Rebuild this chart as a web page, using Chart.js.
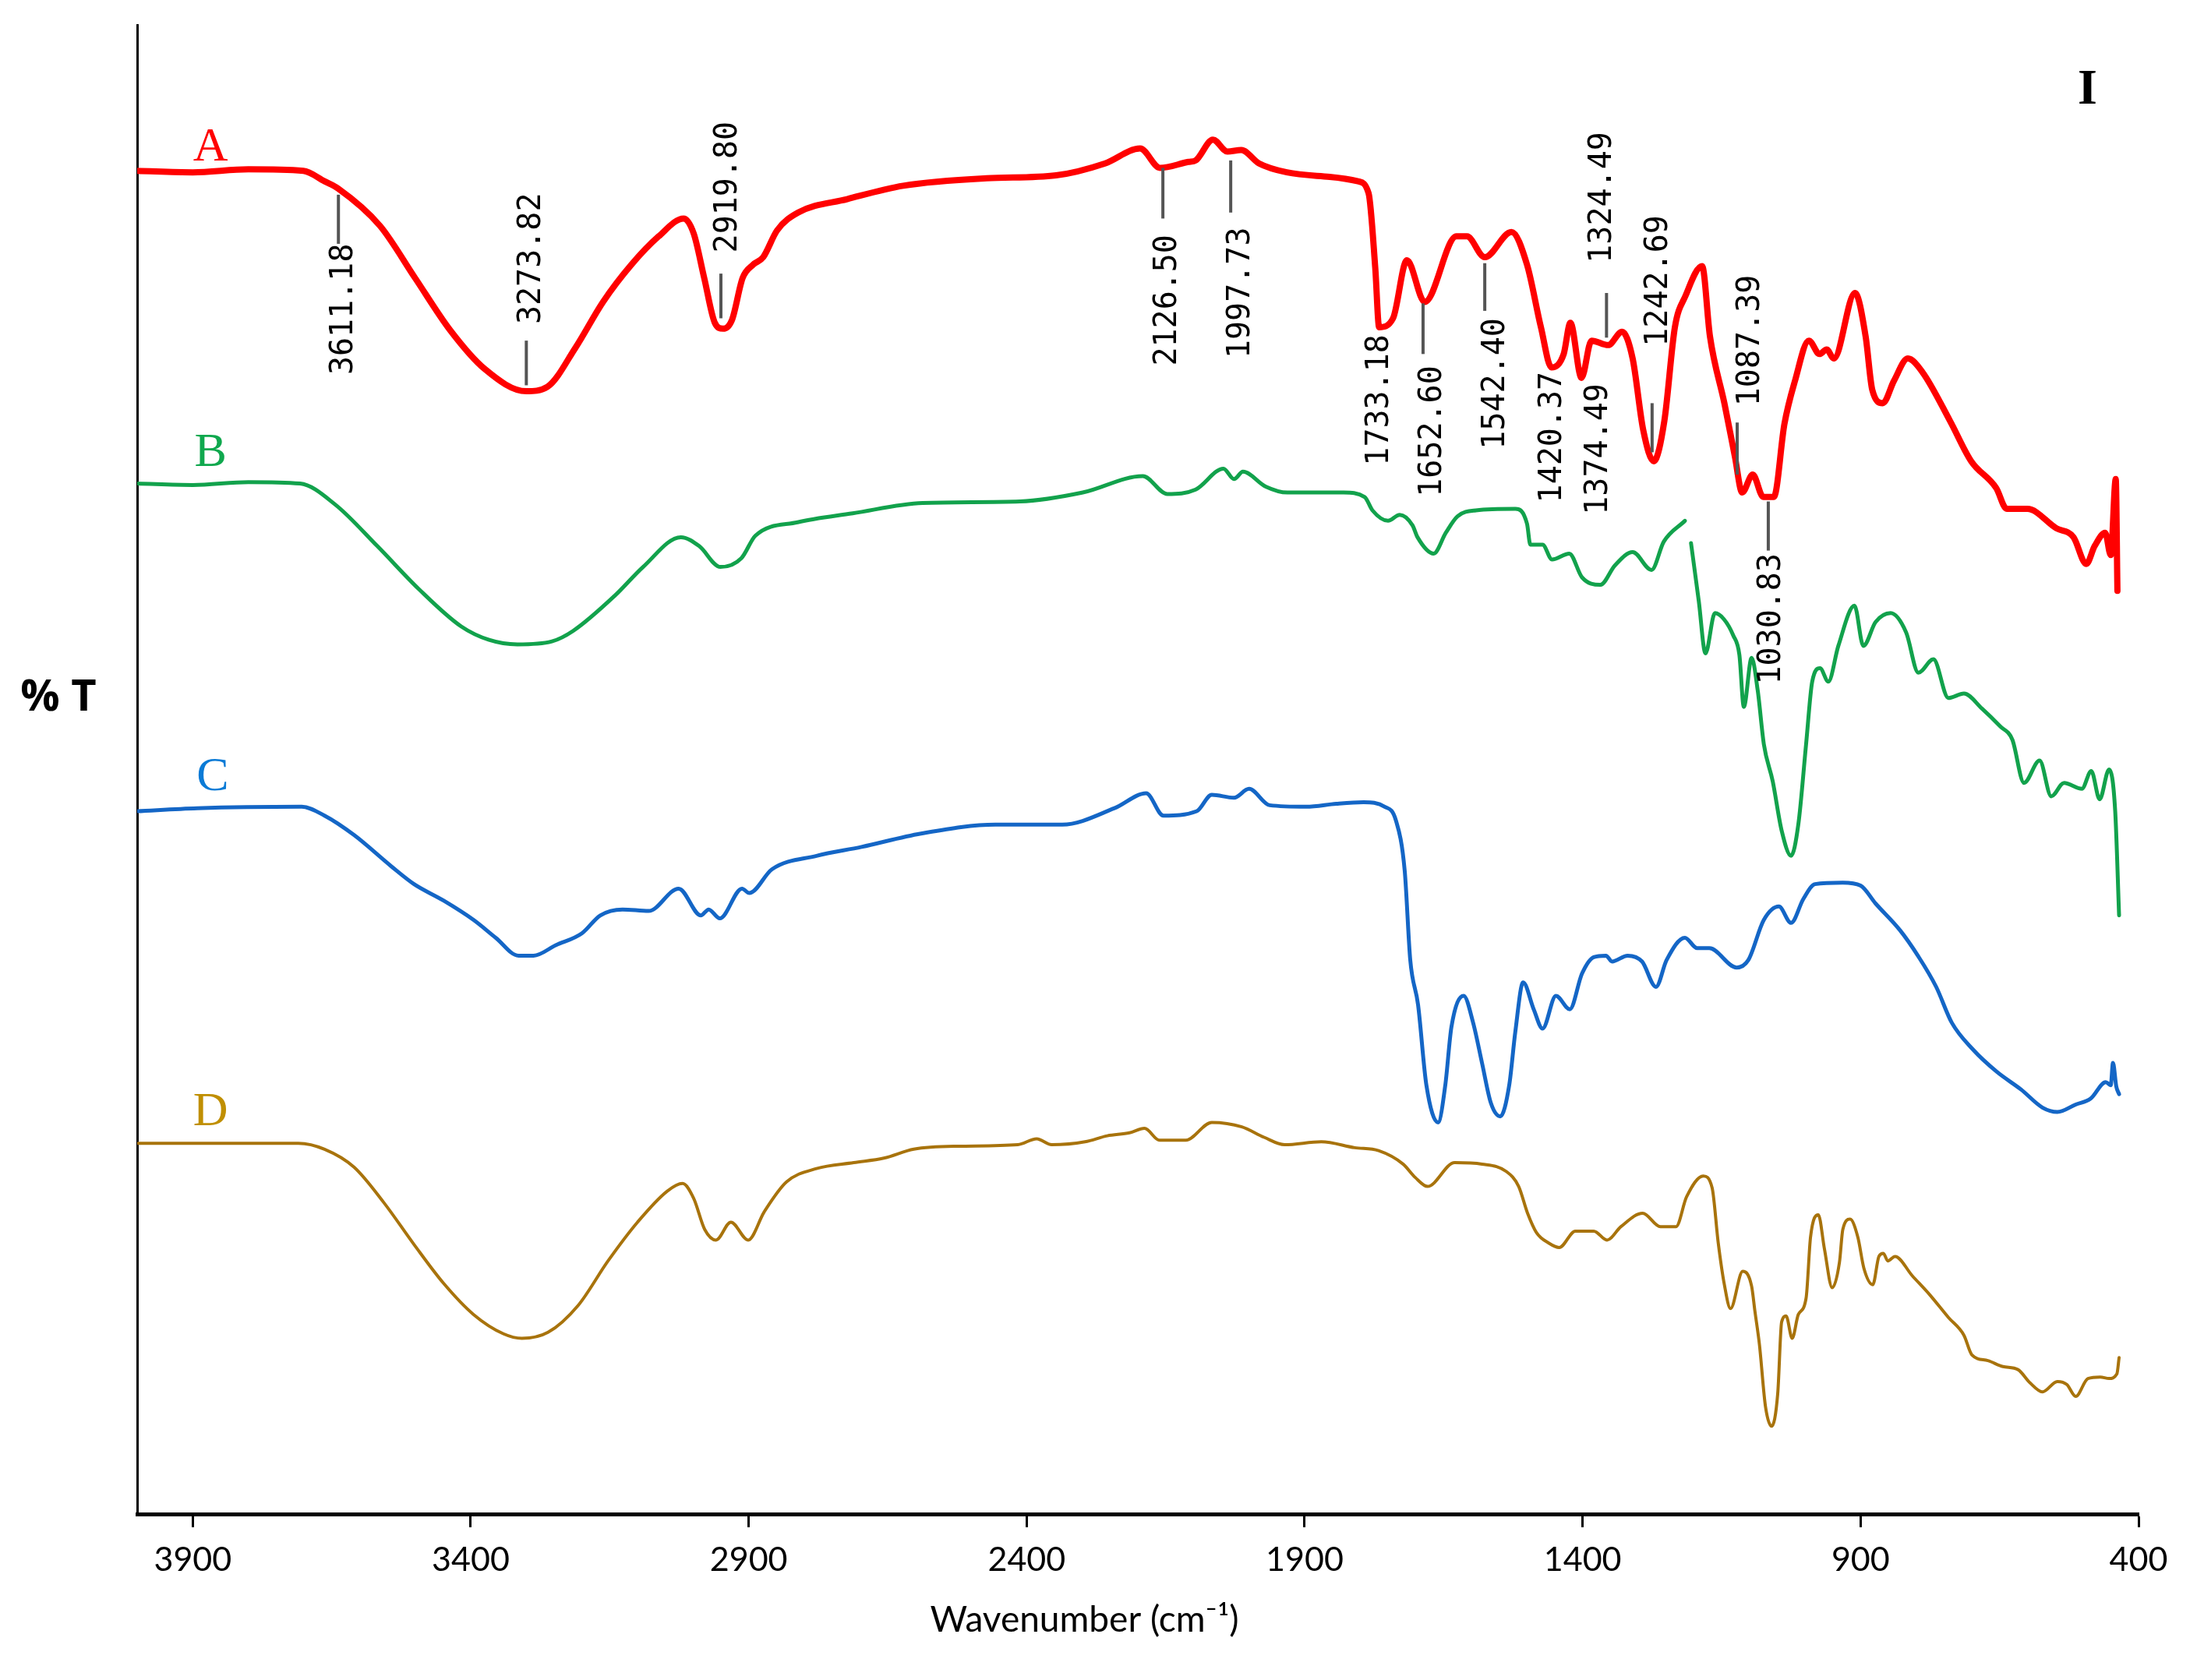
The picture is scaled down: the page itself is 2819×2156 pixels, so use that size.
<!DOCTYPE html>
<html>
<head>
<meta charset="utf-8">
<title>FTIR spectra A-D</title>
<script src="https://cdn.jsdelivr.net/npm/chart.js@4.4.1/dist/chart.umd.min.js"></script>
<style>
  html, body { margin: 0; padding: 0; background: #fff; }
  canvas { display: block; }
</style>
</head>
<body>
<canvas id="ftir" width="2819" height="2156"></canvas>
<script>
// Axis ticks (wavenumber, cm-1)
const xTicks = [3900, 3400, 2900, 2400, 1900, 1400, 900, 400];

// Spectrum A (red) - wavenumber / offset %T
const wnA = [4000, 3900, 3800, 3701, 3663, 3638, 3563, 3500, 3437, 3375, 3300, 3262, 3212, 3162, 3111, 3062, 3017, 2999, 2980, 2961, 2946, 2930, 2911, 2892, 2874, 2849, 2811, 2723, 2622, 2472, 2347, 2259, 2196, 2160, 2109, 2096, 2065, 2039, 2014, 1982, 1932, 1855, 1804, 1785, 1773, 1766, 1741, 1716, 1684, 1627, 1608, 1576, 1528, 1500, 1475, 1456, 1434, 1422, 1402, 1384, 1354, 1329, 1310, 1291, 1272, 1253, 1234, 1215, 1185, 1171, 1145, 1126, 1113, 1094, 1075, 1056, 1037, 1018, 993, 974, 961, 948, 910, 891, 879, 860, 840, 815, 789, 739, 701, 656, 637, 600, 548, 517, 494, 479, 460, 450, 441, 438];
const tA  = [90.2, 90.1, 90.3, 90.2, 89.5, 89.0, 86.5, 83.0, 79.5, 76.9, 75.4, 75.7, 78.3, 81.4, 83.9, 85.8, 87.0, 86.0, 83.0, 80.0, 79.6, 80.2, 83.0, 83.9, 84.4, 86.2, 87.4, 88.3, 89.2, 89.7, 89.9, 90.7, 91.7, 90.4, 90.8, 90.9, 92.3, 91.5, 91.6, 90.7, 90.1, 89.8, 89.5, 88.7, 83.7, 79.7, 80.3, 84.2, 81.4, 85.8, 85.8, 84.4, 86.1, 83.9, 79.7, 77.0, 77.9, 80.0, 76.3, 78.8, 78.5, 79.4, 77.6, 72.8, 70.7, 73.4, 79.7, 81.8, 83.8, 79.1, 74.6, 71.0, 68.6, 69.8, 68.3, 68.3, 73.2, 76.1, 78.8, 77.9, 78.2, 77.6, 82.0, 79.1, 75.5, 74.6, 76.1, 77.6, 76.7, 73.4, 70.7, 68.9, 67.5, 67.5, 66.2, 65.6, 63.8, 65.0, 65.9, 64.4, 69.5, 62.0];

// Spectrum B (green); null marks the break in the trace near 1210
const wnB = [4000, 3900, 3800, 3707, 3644, 3568, 3493, 3417, 3367, 3316, 3254, 3216, 3140, 3090, 3022, 2989, 2951, 2913, 2888, 2812, 2713, 2587, 2412, 2299, 2191, 2147, 2096, 2046, 2027, 2011, 1970, 1931, 1830, 1792, 1778, 1750, 1729, 1706, 1697, 1668, 1646, 1625, 1592, 1521, 1500, 1494, 1472, 1455, 1424, 1401, 1368, 1342, 1310, 1276, 1254, 1216, 1210, 1205, 1191, 1179, 1162, 1146, 1129, 1118, 1110, 1096, 1085, 1074, 1058, 1042, 1025, 1012, 998, 987, 973, 958, 940, 911, 895, 873, 846, 818, 796, 769, 742, 714, 682, 649, 627, 606, 578, 557, 534, 502, 485, 470, 453, 442, 435];
const tB  = [69.2, 69.1, 69.3, 69.2, 67.8, 65.0, 62.1, 59.6, 58.7, 58.4, 58.6, 59.3, 61.7, 63.6, 65.6, 65.0, 63.6, 64.2, 65.7, 66.6, 67.2, 67.9, 68.0, 68.6, 69.7, 68.5, 68.8, 70.2, 69.5, 70.0, 69.0, 68.6, 68.6, 68.3, 67.4, 66.7, 67.1, 66.4, 65.6, 64.5, 65.9, 67.0, 67.4, 67.5, 66.5, 65.1, 65.1, 64.1, 64.5, 62.9, 62.4, 63.7, 64.6, 63.4, 65.3, 66.7, null, 65.2, 61.3, 57.8, 60.5, 60.1, 59.0, 57.7, 54.2, 57.5, 55.3, 51.7, 49.2, 45.9, 44.2, 46.3, 51.7, 55.9, 56.8, 55.9, 58.3, 61.0, 58.3, 59.9, 60.5, 59.2, 56.5, 57.4, 54.8, 55.1, 54.1, 52.9, 52.0, 49.1, 50.6, 48.2, 49.1, 48.7, 49.9, 48.0, 50.0, 47.2, 40.2];

// Spectrum C (blue)
const wnC = [4000, 3892, 3704, 3663, 3610, 3543, 3502, 3449, 3395, 3355, 3314, 3287, 3247, 3200, 3167, 3127, 3080, 3026, 2986, 2972, 2952, 2912, 2899, 2858, 2778, 2697, 2590, 2456, 2336, 2242, 2185, 2154, 2094, 2067, 2027, 2000, 1963, 1897, 1843, 1794, 1756, 1736, 1720, 1710, 1696, 1681, 1660, 1647, 1636, 1614, 1597, 1581, 1565, 1548, 1532, 1521, 1507, 1488, 1472, 1448, 1423, 1401, 1380, 1358, 1347, 1319, 1293, 1268, 1249, 1216, 1194, 1172, 1123, 1102, 1074, 1047, 1025, 1003, 982, 932, 900, 873, 829, 797, 764, 736, 698, 655, 611, 573, 546, 513, 486, 459, 450, 446, 440, 435];
const tC  = [47.2, 47.4, 47.5, 46.9, 45.6, 43.5, 42.3, 41.2, 39.9, 38.7, 37.5, 37.5, 38.2, 39.0, 40.2, 40.6, 40.5, 42.0, 40.2, 40.6, 40.0, 42.0, 41.7, 43.3, 44.2, 44.8, 45.7, 46.3, 46.3, 47.4, 48.4, 46.9, 47.2, 48.3, 48.1, 48.7, 47.6, 47.5, 47.7, 47.8, 47.5, 46.6, 43.2, 37.2, 34.2, 28.8, 26.3, 28.8, 32.7, 34.8, 33.0, 30.3, 27.6, 26.7, 28.8, 32.4, 35.7, 33.9, 32.6, 34.8, 33.9, 36.3, 37.4, 37.5, 37.1, 37.5, 37.1, 35.4, 37.2, 38.7, 38.0, 38.0, 36.7, 37.2, 39.9, 40.8, 39.7, 41.3, 42.3, 42.4, 42.2, 41.0, 39.2, 37.5, 35.4, 33.0, 31.2, 29.7, 28.5, 27.3, 27.0, 27.5, 27.9, 29.0, 28.8, 30.3, 28.7, 28.2];

// Spectrum D (brown)
const wnD = [4000, 3710, 3663, 3610, 3556, 3502, 3449, 3395, 3341, 3308, 3261, 3207, 3153, 3100, 3046, 3019, 2999, 2979, 2959, 2932, 2901, 2872, 2832, 2778, 2711, 2657, 2603, 2523, 2416, 2382, 2355, 2295, 2255, 2215, 2188, 2161, 2114, 2067, 2013, 1973, 1936, 1870, 1810, 1767, 1723, 1701, 1679, 1630, 1581, 1537, 1515, 1499, 1483, 1461, 1442, 1413, 1380, 1356, 1331, 1292, 1260, 1232, 1213, 1183, 1167, 1156, 1145, 1134, 1112, 1096, 1090, 1082, 1071, 1060, 1049, 1042, 1034, 1023, 1012, 998, 990, 976, 965, 951, 938, 932, 919, 905, 894, 878, 867, 859, 851, 838, 807, 775, 742, 714, 700, 671, 644, 617, 595, 573, 546, 529, 513, 491, 469, 453, 439, 435];
const tD  = [24.9, 24.9, 24.5, 23.3, 20.9, 18.1, 15.5, 13.4, 12.1, 11.8, 12.2, 14.0, 17.0, 19.6, 21.7, 22.2, 21.2, 19.1, 18.4, 19.6, 18.4, 20.3, 22.3, 23.2, 23.6, 23.9, 24.5, 24.7, 24.8, 25.2, 24.8, 25.0, 25.4, 25.6, 25.9, 25.1, 25.1, 26.3, 26.0, 25.3, 24.8, 25.0, 24.6, 24.4, 23.5, 22.6, 22.0, 23.6, 23.5, 23.0, 22.0, 20.2, 18.9, 18.2, 17.9, 19.0, 19.0, 18.4, 19.3, 20.2, 19.3, 19.3, 21.3, 22.7, 21.9, 18.2, 15.4, 13.8, 16.3, 15.3, 13.6, 11.4, 7.2, 5.9, 8.1, 12.9, 13.3, 11.8, 13.4, 14.5, 18.6, 20.1, 17.8, 15.2, 16.9, 19.1, 19.8, 18.6, 16.5, 15.4, 17.3, 17.5, 17.0, 17.3, 16.0, 14.7, 13.2, 12.0, 10.7, 10.3, 9.9, 9.7, 8.8, 8.2, 8.9, 8.7, 7.9, 9.1, 9.2, 9.1, 9.4, 10.5];

// Peak labels on spectrum A: leader line (x, top, bottom) and text (x, bottom end)
const peakLabels  = ['3611.18', '3273.82', '2919.80', '2126.50', '1997.73', '1733.18', '1652.60', '1542.40', '1420.37', '1374.49', '1324.49', '1242.69', '1087.39', '1030.83'];
const peakLineX   = [3638, 3300, 2950, 2155, 2033, null, 1687, 1576, null, null, 1357, 1275, 1122, 1066];
const peakLineTop = [88.6, 78.8, 83.3, 90.4, 90.9, null, 81.3, 84.0, null, null, 82.0, 74.6, 73.3, 68.0];
const peakLineBot = [85.3, 75.8, 80.3, 87.0, 87.4, null, 77.9, 80.8, null, null, 79.0, 71.3, 69.8, 64.7];
const peakTextX   = [3628, 3290, 2937, 2146, 2014, 1764, 1669, 1555, 1453, 1371, 1364, 1262, 1097, 1059];
const peakTextY   = [76.5, 79.9, 84.7, 77.1, 77.6, 70.4, 68.3, 71.5, 67.9, 67.1, 84.0, 78.4, 74.4, 55.7];

// Trace names and their label anchors
const seriesNames  = ['A', 'B', 'C', 'D'];
const seriesColors = ['#ff0000', '#12a24c', '#1466c6', '#a8730c'];
const labelColors  = ['#ff0000', '#10a84e', '#0b7bd6', '#c08f00'];
const lineWidths   = [8, 5, 5, 4];
const labelX = [3868, 3868, 3864, 3868];
const labelY = [90.9, 70.4, 48.6, 26.1];

function toPoints(xs, ys) {
    return xs.map((x, i) => ({ x: x, y: ys[i] }));
}

const seriesData = [toPoints(wnA, tA), toPoints(wnB, tB), toPoints(wnC, tC), toPoints(wnD, tD)];

// Draws the peak annotations, trace letters and free text
const annotate = {
    id: 'annotate',
    afterDatasetsDraw(chart) {
        const ctx = chart.ctx;
        const xs = chart.scales.x;
        const ys = chart.scales.y;
        ctx.save();

        // leader lines
        ctx.strokeStyle = '#555';
        ctx.lineWidth = 4;
        peakLabels.forEach((lbl, i) => {
            if (peakLineX[i] === null) return;
            const px = xs.getPixelForValue(peakLineX[i]);
            ctx.beginPath();
            ctx.moveTo(px, ys.getPixelForValue(peakLineTop[i]));
            ctx.lineTo(px, ys.getPixelForValue(peakLineBot[i]));
            ctx.stroke();
        });

        // rotated peak values
        ctx.fillStyle = '#000';
        ctx.font = '40px "DejaVu Sans Mono"';
        ctx.textAlign = 'left';
        ctx.textBaseline = 'middle';
        peakLabels.forEach((lbl, i) => {
            ctx.save();
            ctx.translate(xs.getPixelForValue(peakTextX[i]), ys.getPixelForValue(peakTextY[i]));
            ctx.rotate(-Math.PI / 2);
            ctx.fillText(lbl, 0, 0);
            ctx.restore();
        });

        // trace letters
        ctx.font = '62px "Liberation Serif"';
        ctx.textAlign = 'center';
        ctx.textBaseline = 'alphabetic';
        seriesNames.forEach((name, i) => {
            ctx.fillStyle = labelColors[i];
            ctx.fillText(name, xs.getPixelForValue(labelX[i]), ys.getPixelForValue(labelY[i]));
        });

        // panel mark
        ctx.fillStyle = '#000';
        ctx.font = 'bold 64px "Liberation Serif"';
        ctx.fillText('I', xs.getPixelForValue(492), ys.getPixelForValue(94.7));

        // y axis name, written horizontally
        ctx.font = 'bold 56px "Open Sans"';
        ctx.textBaseline = 'middle';
        ctx.fillText('% T', chart.chartArea.left - 101, ys.getPixelForValue(54.8));

        // x axis title
        ctx.font = '46px Lato';
        ctx.fillText('Wavenumber (cm⁻¹)', xs.getPixelForValue(2296), chart.chartArea.bottom + 136);

        ctx.restore();
    }
};

new Chart(document.getElementById('ftir'), {
    type: 'line',
    data: {
        datasets: seriesData.map((pts, i) => ({
            label: seriesNames[i],
            data: pts,
            borderColor: seriesColors[i],
            borderWidth: lineWidths[i],
            borderJoinStyle: 'round',
            borderCapStyle: 'round',
            pointRadius: 0,
            cubicInterpolationMode: 'monotone',
            spanGaps: false,
            fill: false
        }))
    },
    options: {
        responsive: false,
        devicePixelRatio: 1,
        animation: false,
        events: [],
        layout: { padding: { top: 32, right: 75, left: 0, bottom: 0 } },
        plugins: {
            legend: { display: false },
            tooltip: { enabled: false }
        },
        scales: {
            x: {
                type: 'linear',
                min: 400,
                max: 4000,
                reverse: true,
                afterBuildTicks: s => { s.ticks = xTicks.map(v => ({ value: v })); },
                afterFit: s => { s.height = 213; },
                grid: { drawOnChartArea: false, drawTicks: true, tickLength: 17, tickWidth: 3, tickColor: '#000' },
                border: { display: true, color: '#000', width: 5 },
                ticks: {
                    color: '#000',
                    font: { family: 'Lato', size: 43 },
                    padding: 16,
                    maxRotation: 0,
                    autoSkip: false,
                    callback: v => String(v)
                }
            },
            y: {
                type: 'linear',
                min: 0,
                max: 100,
                afterFit: s => { s.width = 176; },
                grid: { display: false },
                border: { display: true, color: '#000', width: 3 },
                ticks: { display: false }
            }
        }
    },
    plugins: [annotate]
});
</script>
</body>
</html>
